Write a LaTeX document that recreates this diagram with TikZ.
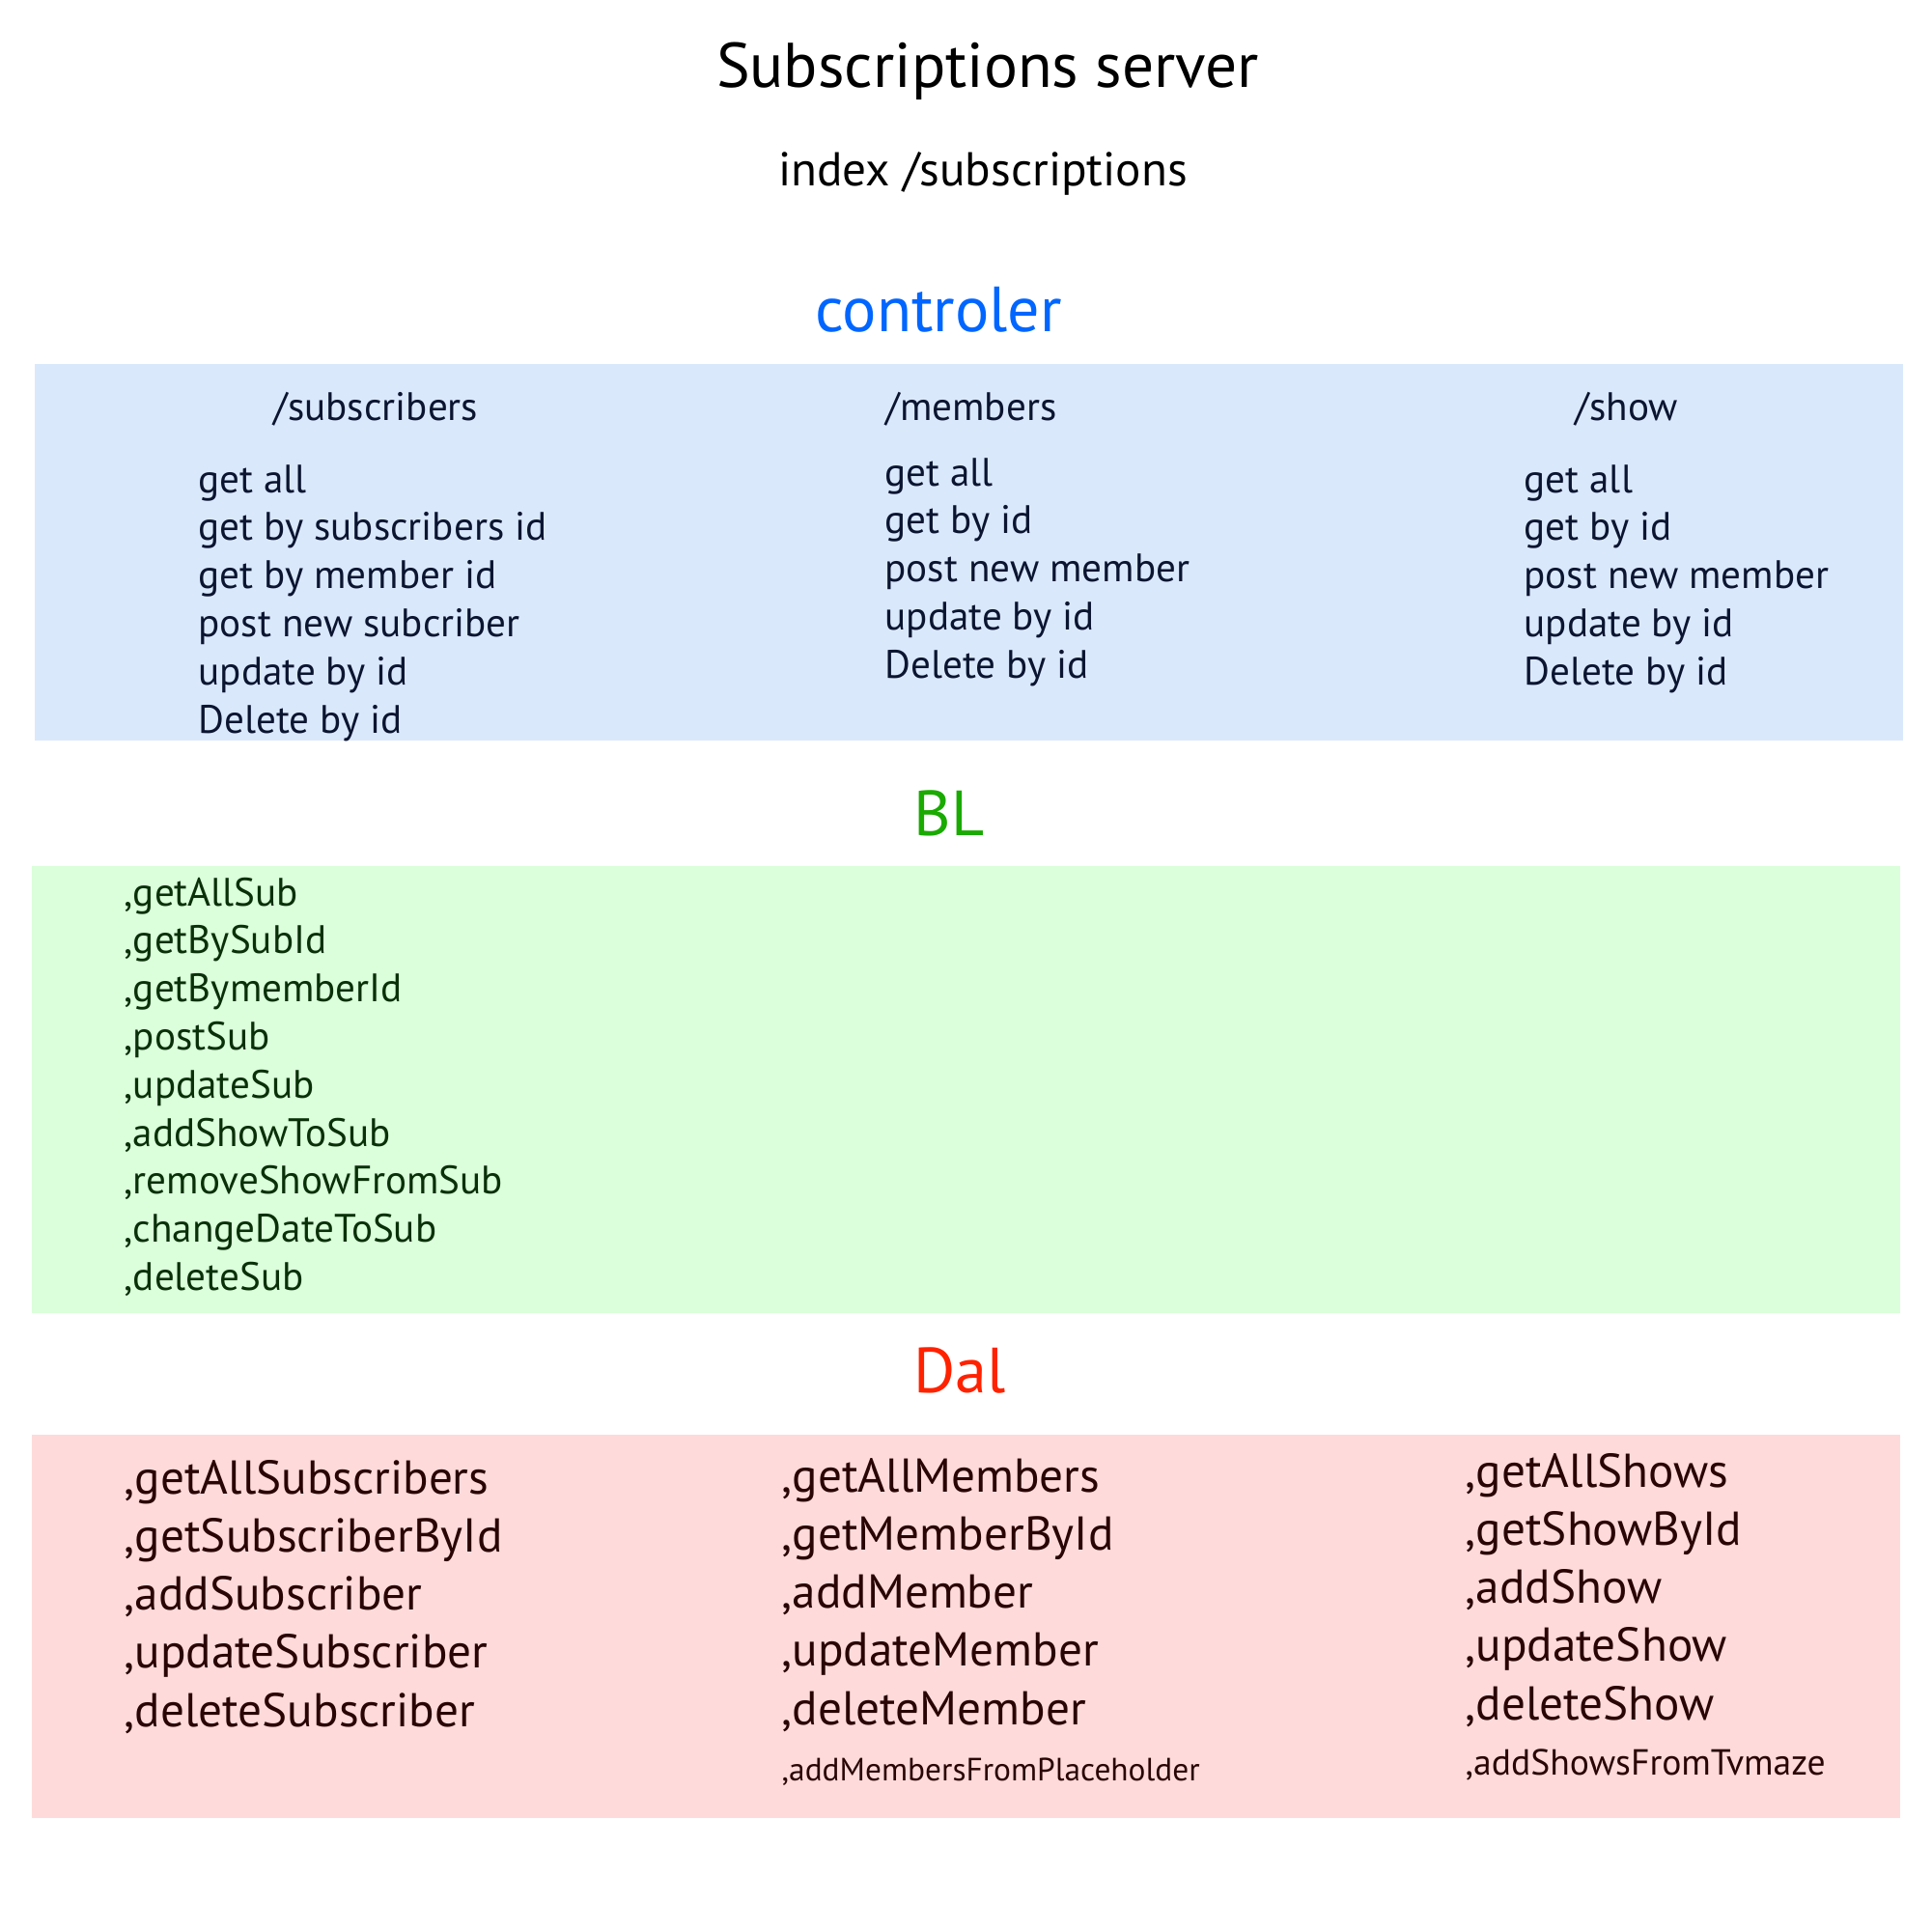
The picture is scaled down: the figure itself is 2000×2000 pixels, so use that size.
\documentclass[tikz,border=0pt]{standalone}
\usepackage{fontspec}
\setmainfont{PT Sans}

\definecolor{ctrlfill}{HTML}{DAE8FC}
\definecolor{blfill}{HTML}{DAFFDA}
\definecolor{dalfill}{HTML}{FFDADA}
\definecolor{ctrltext}{HTML}{0066FF}
\definecolor{bltext}{HTML}{1AAA00}
\definecolor{daltext}{HTML}{FF2200}
\definecolor{ctrlitem}{HTML}{0B1530}
\definecolor{blitem}{HTML}{0A300A}
\definecolor{dalitem}{HTML}{2A0505}

\tikzset{
  layerbox/.style={anchor=north west, inner sep=0pt, outer sep=0pt},
  layername/.style={anchor=base, inner sep=0pt, font=\fontsize{18.8}{22}\selectfont},
  entry/.style={anchor=base west, inner sep=0pt, font=\fontsize{11.7}{14}\selectfont},
  bigentry/.style={anchor=base west, inner sep=0pt, font=\fontsize{14}{17}\selectfont, text=dalitem},
  smallentry/.style={anchor=base west, inner sep=0pt, text=dalitem}
}

\begin{document}
\begin{tikzpicture}[x=0.1mm, y=-0.1mm]

\useasboundingbox (0,0) rectangle (2000,2000);

% Sizes
\def\boxw{193.5mm}
\def\rowc{49.8}
\def\rowd{60.3}

% Header
\node[anchor=base, inner sep=0pt, font=\fontsize{18.6}{22}\selectfont] (title) at (1023,90) {Subscriptions server};
\node[anchor=base, inner sep=0pt, font=\fontsize{14}{17}\selectfont] (index) at (1018,192) {index /subscriptions};

% Controller layer
\node[layername, text=ctrltext] (ctrl) at (972,343) {controler};
\node[layerbox, fill=ctrlfill, minimum width=\boxw, minimum height=39mm] (ctrlbox) at (36,377) {};

\node[entry, text=ctrlitem] (subs) at (283,435) {/subscribers};
\node[entry, text=ctrlitem] (mem) at (917,435) {/members};
\node[entry, text=ctrlitem] (show) at (1631,435) {/show};

\foreach \i/\text in {
0/get all,
1/get by subscribers id,
2/get by member id,
3/post new subcriber,
4/update by id,
5/Delete by id
} {
  \node[entry, text=ctrlitem] (subs\i) at (205,510+\rowc*\i) {\text};
}
\foreach \i/\text in {
0/get all,
1/get by id,
2/post new member,
3/update by id,
4/Delete by id
} {
  \node[entry, text=ctrlitem] (mem\i) at (916,503+\rowc*\i) {\text};
  \node[entry, text=ctrlitem] (show\i) at (1578,510+\rowc*\i) {\text};
}

% BL layer
\node[layername, text=bltext] (bl) at (983,865) {BL};
\node[layerbox, fill=blfill, minimum width=\boxw, minimum height=46.3mm] (blbox) at (33,897) {};

\foreach \i/\text in {
0/getAllSub,
1/getBySubId,
2/getBymemberId,
3/postSub,
4/updateSub,
5/addShowToSub,
6/removeShowFromSub,
7/changeDateToSub,
8/deleteSub
} {
  \node[entry, text=blitem] (sub\i) at (128,938+\rowc*\i) {,\text};
}

% Dal layer
\node[layername, text=daltext] (dal) at (994,1442) {Dal};
\node[layerbox, fill=dalfill, minimum width=\boxw, minimum height=39.7mm] (dalbox) at (33,1486) {};

\foreach \i/\a/\b/\c in {
0/getAllSubscribers/getAllMembers/getAllShows,
1/getSubscriberById/getMemberById/getShowById,
2/addSubscriber/addMember/addShow,
3/updateSubscriber/updateMember/updateShow,
4/deleteSubscriber/deleteMember/deleteShow
} {
  \node[bigentry] (dsub\i) at (128,1547+\rowd*\i) {,\a};
  \node[bigentry] (dmem\i) at (809,1545+\rowd*\i) {,\b};
  \node[bigentry] (dshow\i) at (1517,1540+\rowd*\i) {,\c};
}
\node[smallentry, font=\fontsize{9.5}{11}\selectfont] (dmem5) at (809,1844) {,addMembersFromPlaceholder};
\node[smallentry, font=\fontsize{10.7}{13}\selectfont] (dshow5) at (1517,1838) {,addShowsFromTvmaze};

\end{tikzpicture}
\end{document}
